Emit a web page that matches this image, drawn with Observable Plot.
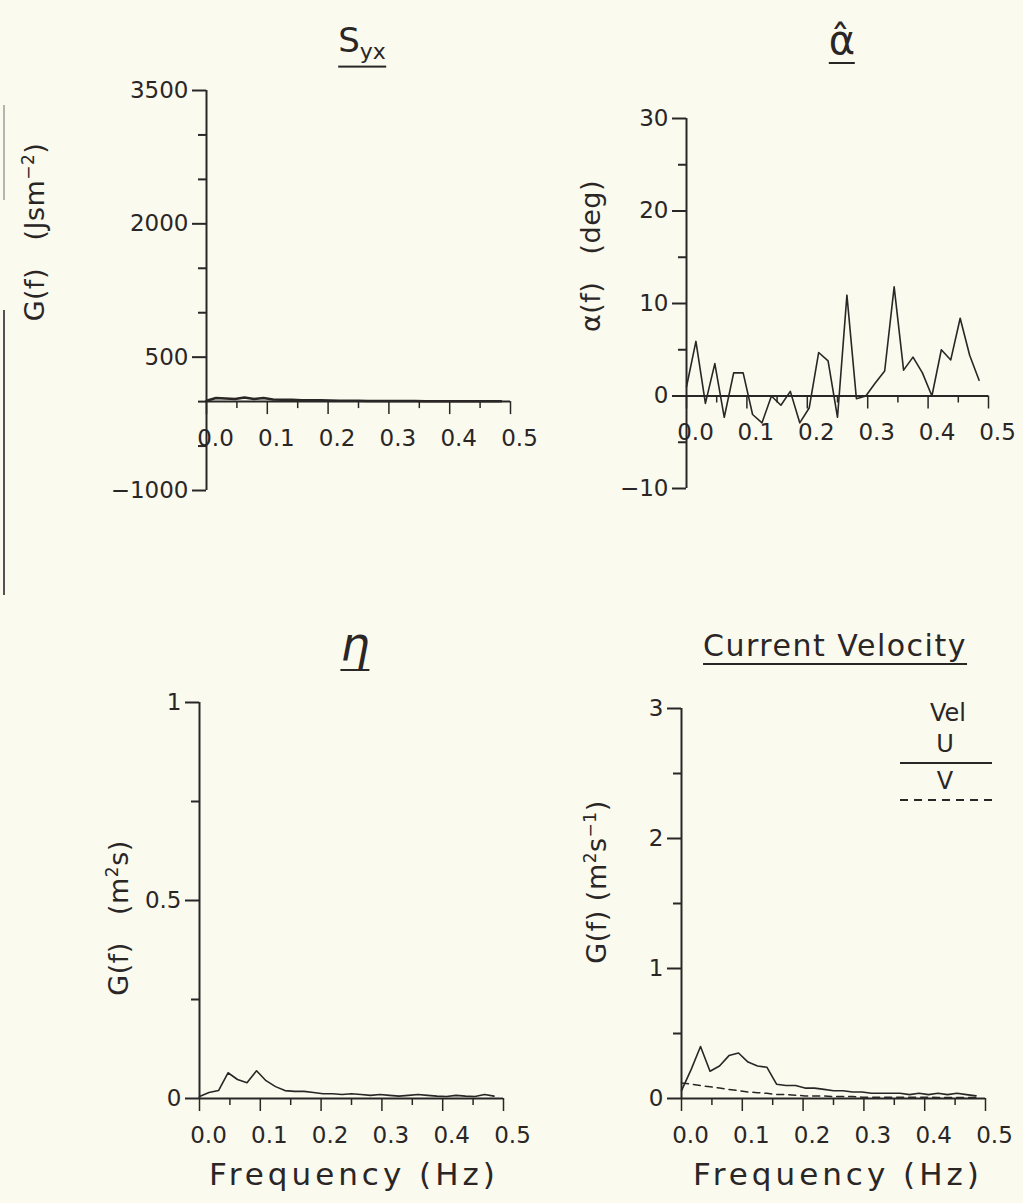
<!DOCTYPE html>
<html><head><meta charset="utf-8">
<script src="https://cdn.jsdelivr.net/npm/d3@7"></script>
<script src="https://cdn.jsdelivr.net/npm/@observablehq/plot@0.6"></script>
<style>
body{margin:0;background:#fafaee;}
#page{position:relative;width:1023px;height:1203px;overflow:hidden;background:#fafaee;font-family:"DejaVu Sans",sans-serif;color:#2a2626;}
#page svg.plot{position:absolute;left:0;top:0;}
.t{position:absolute;white-space:nowrap;transform:translate(-50%,-50%);line-height:1;}
.ttl{font-size:30px;}
.ul{display:inline-block;border-bottom:2px solid #2a2626;padding-bottom:2px;}
.yl{font-size:27px;letter-spacing:0.5px;transform:translate(-50%,-50%) rotate(-90deg);}
.yl sup{font-size:17px;}
.fx{font-size:31px;letter-spacing:4px;}
.lg{font-size:24px;}
.edge{position:absolute;left:3px;width:2px;}
</style></head><body><div id="page"></div>
<script>
// ---- data ----
const freq = [0, 0.0156, 0.0313, 0.0469, 0.0625, 0.0781, 0.0938, 0.1094, 0.125, 0.1406, 0.1563, 0.1719, 0.1875, 0.2031, 0.2188, 0.2344, 0.25, 0.2656, 0.2813, 0.2969, 0.3125, 0.3281, 0.3438, 0.3594, 0.375, 0.3906, 0.4063, 0.4219, 0.4375, 0.4531, 0.4688, 0.4844];
const syx = [10, 40, 35, 30, 45, 30, 40, 25, 20, 20, 15, 15, 15, 12, 10, 10, 10, 8, 8, 8, 6, 6, 6, 5, 5, 5, 4, 4, 4, 3, 3, 3];
const alpha = [1.0, 5.9, -0.8, 3.5, -2.3, 2.5, 2.5, -2.0, -2.9, 0.0, -1.0, 0.5, -2.9, -1.3, 4.7, 3.8, -2.3, 10.9, -0.3, 0.0, 1.4, 2.7, 11.8, 2.8, 4.2, 2.5, 0.0, 5.0, 3.9, 8.4, 4.4, 1.7];
const eta = [0.005, 0.015, 0.02, 0.065, 0.048, 0.04, 0.07, 0.045, 0.03, 0.02, 0.018, 0.018, 0.015, 0.012, 0.012, 0.01, 0.012, 0.01, 0.008, 0.01, 0.008, 0.006, 0.008, 0.01, 0.008, 0.006, 0.005, 0.008, 0.006, 0.005, 0.01, 0.006];
const velU = [0.06, 0.22, 0.4, 0.21, 0.25, 0.33, 0.35, 0.28, 0.25, 0.24, 0.11, 0.1, 0.1, 0.08, 0.08, 0.07, 0.06, 0.06, 0.05, 0.05, 0.04, 0.04, 0.04, 0.04, 0.03, 0.04, 0.03, 0.04, 0.03, 0.04, 0.03, 0.02];
const velV = [0.12, 0.11, 0.1, 0.09, 0.08, 0.07, 0.06, 0.05, 0.045, 0.04, 0.03, 0.03, 0.025, 0.02, 0.02, 0.02, 0.015, 0.015, 0.015, 0.01, 0.01, 0.01, 0.01, 0.01, 0.01, 0.01, 0.01, 0.008, 0.008, 0.008, 0.008, 0.008];
const xMajor = [0, 0.1, 0.2, 0.3, 0.4, 0.5];
const xMinor = [0.05, 0.15, 0.25, 0.35, 0.45];
const syxMajor = [-1000, 500, 2000, 3500];
const syxMinor = [-500, 0, 1000, 1500, 2500, 3000];
const alphaMajor = [-10, 0, 10, 20, 30];
const alphaMinor = [-5, 5, 15, 25];
const etaMajor = [0, 0.5, 1];
const etaMinor = [0.25, 0.75];
const velMajor = [0, 1, 2, 3];
const velMinor = [0.5, 1.5, 2.5];

const INK = "#2a2626";
const W = 1023, H = 1203;
const page = document.getElementById("page");

function panel(o) {
  const marks = [
    Plot.ruleX([0], {stroke: INK, strokeWidth: 2}),
    Plot.ruleY([0], {stroke: INK, strokeWidth: 2}),
    Plot.axisY({ticks: o.yMajor, tickSize: 14, tickPadding: 4, tickFormat: o.yFmt, fontSize: 23, strokeWidth: 2, label: null}),
    Plot.axisY({ticks: o.yMinor, tickSize: 8, tickPadding: 2, tickFormat: () => "", strokeWidth: 2, label: null}),
    Plot.ruleX(xMajor, {x: d => d, y1: 0, y2: 0, insetBottom: -13, stroke: INK, strokeWidth: 1.5}),
    Plot.ruleX(xMinor, {x: d => d, y1: 0, y2: 0, insetBottom: -7, stroke: INK, strokeWidth: 1.5}),
    Plot.text(xMajor, {x: d => d, y: 0, text: d => d.toFixed(1), dy: 37, dx: 9, fontSize: 23, fill: INK}),
    ...o.marks
  ];
  const svg = Plot.plot({
    width: W, height: H,
    marginLeft: o.ml, marginRight: W - o.xr, marginTop: o.yt, marginBottom: H - o.yb,
    x: {domain: [0, 0.5], axis: null},
    y: {domain: o.yDomain, axis: null},
    style: {background: "transparent", color: INK, fontFamily: "DejaVu Sans, sans-serif", overflow: "visible"},
    marks
  });
  svg.classList.add("plot");
  page.appendChild(svg);
}

const rows = (vals) => freq.map((f, i) => ({f, v: vals[i]}));
const fmt = d => d < 0 ? "\u2212" + Math.abs(d) : String(d);

panel({ml: 206, xr: 510, yt: 90, yb: 490, yDomain: [-1000, 3500], yMajor: syxMajor, yMinor: syxMinor, yFmt: fmt,
  marks: [Plot.line(rows(syx), {x: "f", y: "v", stroke: INK, strokeWidth: 2.5})]});
panel({ml: 686, xr: 988, yt: 118, yb: 488, yDomain: [-10, 30], yMajor: alphaMajor, yMinor: alphaMinor, yFmt: fmt,
  marks: [Plot.line(rows(alpha), {x: "f", y: "v", stroke: INK, strokeWidth: 1.6})]});
panel({ml: 199, xr: 503, yt: 702, yb: 1098, yDomain: [0, 1], yMajor: etaMajor, yMinor: etaMinor, yFmt: fmt,
  marks: [Plot.line(rows(eta), {x: "f", y: "v", stroke: INK, strokeWidth: 1.6})]});
panel({ml: 681, xr: 985, yt: 708, yb: 1098, yDomain: [0, 3], yMajor: velMajor, yMinor: velMinor, yFmt: fmt,
  marks: [
    Plot.line(rows(velV), {x: "f", y: "v", stroke: INK, strokeWidth: 1.5, strokeDasharray: "7,5"}),
    Plot.line(rows(velU), {x: "f", y: "v", stroke: INK, strokeWidth: 1.6})
  ]});

// ---- texts ----
function txt(html, cls, x, y) {
  const d = document.createElement("div");
  d.className = "t " + cls;
  d.innerHTML = html;
  d.style.left = x + "px"; d.style.top = y + "px";
  page.appendChild(d);
  return d;
}
txt("<span class='ul'>S<sub style='font-size:22px'>yx</sub></span>", "ttl", 362, 45).style.fontSize = "34px";
txt("<span class='ul'>&alpha;&#770;</span>", "ttl", 842, 42).style.fontSize = "40px";
txt("<span class='ul'><i>&eta;</i></span>", "ttl", 355, 646).style.fontSize = "46px";
const cv = txt("<span class='ul'>Current Velocity</span>", "ttl", 835, 648);
cv.style.fontSize = "30px"; cv.style.letterSpacing = "1.5px";

txt("G(f)&nbsp;&nbsp;&nbsp;(Jsm<sup>\u22122</sup>)", "yl", 34, 232);
txt("&alpha;(f)&nbsp;&nbsp;&nbsp;(deg)", "yl", 590, 256);
txt("G(f)&nbsp;&nbsp;&nbsp;(m<sup>2</sup>s)", "yl", 118, 918);
txt("G(f)&nbsp;(m<sup>2</sup>s<sup>\u22121</sup>)", "yl", 596, 882);

txt("Frequency (Hz)", "fx", 354, 1174);
txt("Frequency (Hz)", "fx", 838, 1174);

// legend
txt("Vel", "lg", 948, 713);
txt("U", "lg", 945, 744);
txt("V", "lg", 945, 781);
const ns = "http://www.w3.org/2000/svg";
const lg = document.createElementNS(ns, "svg");
lg.setAttribute("width", 100); lg.setAttribute("height", 60);
lg.style.position = "absolute"; lg.style.left = "898px"; lg.style.top = "755px";
lg.innerHTML = `<line x1="2" x2="94" y1="8" y2="8" stroke="${INK}" stroke-width="2"/>
<line x1="2" x2="94" y1="45" y2="45" stroke="${INK}" stroke-width="2" stroke-dasharray="8,6"/>`;
page.appendChild(lg);

// scanned page edge
for (const [t, h, c] of [[105, 95, "#b8b2b0"], [310, 285, "#5a4f52"]]) {
  const e = document.createElement("div");
  e.className = "edge"; e.style.top = t + "px"; e.style.height = h + "px"; e.style.background = c;
  page.appendChild(e);
}
</script>
</body></html>
